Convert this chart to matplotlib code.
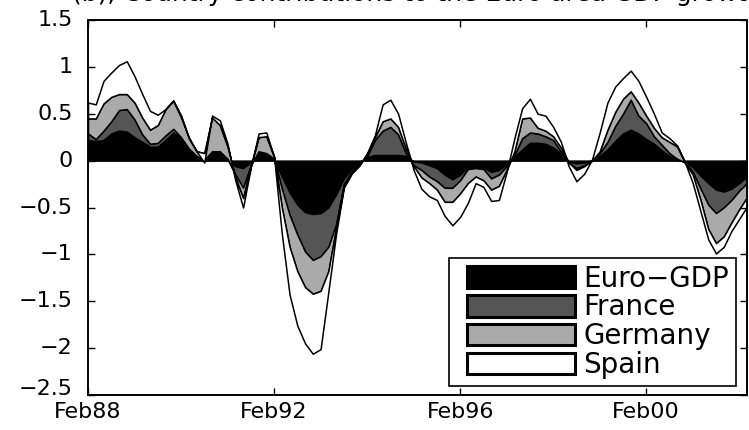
import numpy as np
import matplotlib
matplotlib.use("Agg")
import matplotlib.pyplot as plt
from matplotlib.patches import Patch, Rectangle
from matplotlib.legend_handler import HandlerPatch

plt.rcParams['font.family'] = ['DejaVu Sans']

# months since Feb88, one reading every second month (Feb88 ... Apr02)
months = np.arange(86) * 2

# stacked levels (top edge of each band)
top_euro = [0.22, 0.21, 0.22, 0.29, 0.32, 0.31, 0.25, 0.20, 0.15, 0.15,
            0.22, 0.30, 0.24, 0.13, 0.05, 0.01, 0.10, 0.10, 0.02, -0.06,
            -0.08, -0.02, 0.10, 0.08, 0.01, -0.17, -0.34, -0.47, -0.55, -0.57,
            -0.56, -0.50, -0.36, -0.19, -0.09, -0.02, 0.04, 0.06, 0.06, 0.06,
            0.06, 0.05, -0.01, -0.02, -0.05, -0.08, -0.15, -0.20, -0.15, -0.07,
            -0.07, -0.07, -0.12, -0.10, -0.04, 0.04, 0.12, 0.19, 0.19, 0.18,
            0.14, 0.08, -0.01, -0.03, -0.02, 0.00, 0.05, 0.12, 0.21, 0.29,
            0.33, 0.29, 0.23, 0.18, 0.11, 0.05, 0.01, -0.01, -0.07, -0.16,
            -0.24, -0.31, -0.33, -0.30, -0.24, -0.17]
top_france = [0.29, 0.23, 0.32, 0.42, 0.54, 0.55, 0.44, 0.28, 0.18, 0.19,
              0.27, 0.34, 0.25, 0.13, 0.05, 0.01, 0.10, 0.10, 0.02, -0.15,
              -0.29, -0.05, 0.10, 0.08, 0.02, -0.30, -0.58, -0.79, -0.97, -1.06,
              -1.02, -0.92, -0.68, -0.25, -0.12, -0.03, 0.05, 0.22, 0.32, 0.36,
              0.28, 0.08, -0.05, -0.10, -0.17, -0.22, -0.29, -0.29, -0.21, -0.09,
              -0.08, -0.09, -0.19, -0.15, -0.06, 0.06, 0.24, 0.30, 0.29, 0.26,
              0.22, 0.10, -0.02, -0.08, -0.05, 0.00, 0.08, 0.20, 0.37, 0.50,
              0.65, 0.48, 0.40, 0.26, 0.17, 0.08, 0.02, -0.02, -0.12, -0.30,
              -0.47, -0.56, -0.50, -0.42, -0.32, -0.24]
top_germany = [0.45, 0.45, 0.61, 0.68, 0.71, 0.71, 0.62, 0.46, 0.33, 0.38,
               0.55, 0.64, 0.48, 0.24, 0.10, 0.08, 0.46, 0.38, 0.15, -0.18,
               -0.40, -0.06, 0.25, 0.26, 0.04, -0.50, -0.92, -1.18, -1.35, -1.42,
               -1.39, -1.18, -0.72, -0.27, -0.13, -0.05, 0.07, 0.25, 0.42, 0.45,
               0.36, 0.13, -0.06, -0.18, -0.24, -0.31, -0.44, -0.44, -0.35, -0.24,
               -0.17, -0.21, -0.31, -0.27, -0.10, 0.10, 0.45, 0.46, 0.35, 0.32,
               0.26, 0.14, -0.02, -0.10, -0.06, 0.00, 0.10, 0.33, 0.52, 0.66,
               0.74, 0.62, 0.48, 0.35, 0.25, 0.20, 0.15, -0.02, -0.15, -0.42,
               -0.73, -0.88, -0.81, -0.66, -0.52, -0.39]
top_spain = [0.62, 0.60, 0.85, 0.94, 1.02, 1.06, 0.90, 0.71, 0.53, 0.49,
             0.55, 0.64, 0.46, 0.25, 0.10, -0.02, 0.48, 0.43, 0.18, -0.21,
             -0.50, -0.07, 0.29, 0.30, 0.04, -0.78, -1.43, -1.76, -1.95, -2.06,
             -2.01, -1.40, -0.78, -0.29, -0.14, -0.05, 0.08, 0.27, 0.60, 0.65,
             0.50, 0.19, -0.10, -0.30, -0.38, -0.42, -0.59, -0.69, -0.60, -0.45,
             -0.24, -0.28, -0.43, -0.42, -0.12, 0.24, 0.56, 0.66, 0.50, 0.48,
             0.36, 0.20, -0.06, -0.22, -0.14, 0.01, 0.30, 0.62, 0.79, 0.88,
             0.96, 0.85, 0.68, 0.50, 0.30, 0.24, 0.16, -0.02, -0.24, -0.54,
             -0.84, -0.99, -0.92, -0.75, -0.62, -0.49]

names = ['Euro\u2212GDP', 'France', 'Germany', 'Spain']
colors = ['#000000', '#555555', '#aaaaaa', '#ffffff']
tick_pos = [0, 48, 96, 144]
tick_labels = ['Feb88', 'Feb92', 'Feb96', 'Feb00']
ytick_vals = [-2.5, -2, -1.5, -1, -0.5, 0, 0.5, 1, 1.5]
title = '(b), Country contributions to the Euro area GDP growth'

fig = plt.figure(figsize=(7.49, 4.30), dpi=100)
ax = fig.add_axes([88 / 749, 1 - 395 / 430, 659 / 749, 375 / 430])

levels = [top_euro, top_france, top_germany, top_spain]
prev = np.zeros(len(months))
for lev, c in zip(levels, colors):
    lev = np.array(lev)
    ax.fill_between(months, prev, lev, facecolor=c, edgecolor='black',
                    linewidth=1.1)
    prev = lev

ax.set_xlim(0, 170)
ax.set_ylim(-2.5, 1.5)
ax.set_xticks(tick_pos)
ax.set_xticklabels(tick_labels)
ax.set_yticks(ytick_vals)
ax.set_yticklabels([])
ax.tick_params(direction='in', top=True, right=True, length=5, width=1,
               labelsize=16)
ax.tick_params(axis='x', pad=5)
for s in ax.spines.values():
    s.set_linewidth(1.4)

# y labels drawn by hand so the lowest one can sit a little higher
for v in ytick_vals:
    lab = ('%g' % v).replace('-', '\u2212')
    dy = 4 if v == -2.5 else 0
    ax.annotate(lab, xy=(0, v), xycoords=('axes fraction', 'data'),
                xytext=(-11, dy), textcoords='offset points',
                ha='right', va='center', fontsize=16)


def shifted_box(legend, orig_handle, xdescent, ydescent, width, height, fontsize):
    return Rectangle((-xdescent + 0.1 * width, -ydescent), 0.9 * width, height)


handles = [Patch(facecolor=c, edgecolor='black', linewidth=2.2) for c in colors]
leg = ax.legend(handles, names, loc='lower right',
                bbox_to_anchor=(648 / 659, 9 / 375), fontsize=20,
                handlelength=4.3, handleheight=0.83, handletextpad=0.3,
                labelspacing=0.03, borderpad=0.25, borderaxespad=0,
                fancybox=False, framealpha=1, edgecolor='black',
                handler_map={Patch: HandlerPatch(patch_func=shifted_box)})
leg.get_frame().set_linewidth(1.2)

fig.text(417 / 749, 1 - 1 / 430, title, ha='center', va='baseline', fontsize=18)

fig.savefig('out.png', dpi=100)
